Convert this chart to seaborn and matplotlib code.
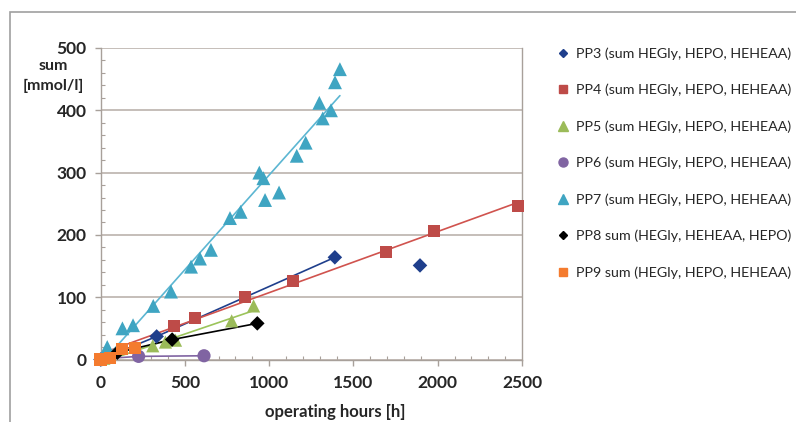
import numpy as np
import pandas as pd
import seaborn as sns
import matplotlib.pyplot as plt
from matplotlib.lines import Line2D
from matplotlib.patches import Rectangle
from matplotlib.ticker import MultipleLocator

# values (operating hours [h], sum [mmol/l])
pp3_x = [0, 333, 1390, 1895]
pp3_y = [0, 37, 164, 151]
pp4_x = [0, 438, 560, 857, 1144, 1693, 1980, 2478]
pp4_y = [0, 53, 66, 100, 126, 173, 207, 246]
pp5_x = [20, 310, 385, 445, 778, 908]
pp5_y = [2, 22, 28, 31, 62, 86]
pp6_x = [0, 226, 614]
pp6_y = [1, 5, 6]
pp7_x = [30, 40, 130, 193, 313, 418, 537, 590, 655, 768, 831, 942, 966, 976,
         1059, 1164, 1217, 1298, 1318, 1367, 1391, 1420]
pp7_y = [10, 20, 50, 55, 86, 109, 149, 162, 176, 227, 237, 300, 291, 256,
         268, 327, 348, 412, 387, 400, 445, 466]
pp8_x = [10, 100, 425, 930]
pp8_y = [1, 11, 32, 58]
pp9_x = [0, 55, 125, 205]
pp9_y = [0, 3, 17, 19]

labels = ["PP3 (sum HEGly, HEPO, HEHEAA)",
          "PP4 (sum HEGly, HEPO, HEHEAA)",
          "PP5 (sum HEGly, HEPO, HEHEAA)",
          "PP6 (sum HEGly, HEPO, HEHEAA)",
          "PP7 (sum HEGly, HEPO, HEHEAA)",
          "PP8 sum (HEGly, HEHEAA, HEPO)",
          "PP9 sum (HEGly, HEPO, HEHEAA)"]

sns.set_style("white")
plt.rcParams['font.family'] = ['Lato', 'DejaVu Sans']

fig = plt.figure(figsize=(7.96, 4.22), dpi=100)
ax = fig.add_axes([100.5 / 796, 1 - 359.5 / 422, 421.5 / 796, 311.5 / 422])

c3, c4, c5, c6, c7, c8, c9 = "#1f3f8c", "#be4b48", "#9bbb59", "#8064a2", "#3fa5c2", "black", "#f47b2e"

# PP3: line through the regular points, last point is an outlier
sns.lineplot(x=pp3_x[:3], y=pp3_y[:3], color=c3, lw=1.2, ax=ax, sort=False)
sns.scatterplot(x=pp3_x, y=pp3_y, color=c3, marker="D", s=55, edgecolor="none", ax=ax, clip_on=False, zorder=5)

# PP4 / PP5 / PP7 with linear trendlines
sns.regplot(x=pp4_x, y=pp4_y, scatter=False, ci=None, color="#d0534e", line_kws={"lw": 1.2}, ax=ax)
sns.scatterplot(x=pp4_x, y=pp4_y, color=c4, marker="s", s=75, edgecolor="none", ax=ax, clip_on=False, zorder=5)

sns.regplot(x=pp5_x, y=pp5_y, scatter=False, ci=None, color="#9bc45a", line_kws={"lw": 1.2}, ax=ax)
sns.scatterplot(x=pp5_x, y=pp5_y, color=c5, marker="^", s=90, edgecolor="none", ax=ax, clip_on=False, zorder=5)

sns.lineplot(x=pp6_x, y=pp6_y, color=c6, lw=1.2, ax=ax, sort=False)
sns.scatterplot(x=pp6_x[1:], y=pp6_y[1:], color=c6, marker="o", s=90, edgecolor="none", ax=ax, clip_on=False, zorder=5)

sns.regplot(x=pp7_x, y=pp7_y, scatter=False, ci=None, color="#5cb6d2", line_kws={"lw": 1.2}, ax=ax)
sns.scatterplot(x=pp7_x, y=pp7_y, color=c7, marker="^", s=100, edgecolor="none", ax=ax, clip_on=False, zorder=5)

sns.lineplot(x=pp8_x, y=pp8_y, color=c8, lw=1.2, ax=ax, sort=False)
sns.scatterplot(x=pp8_x[1:], y=pp8_y[1:], color=c8, marker="D", s=55, edgecolor="none", ax=ax, clip_on=False, zorder=6)

sns.lineplot(x=pp9_x, y=pp9_y, color=c9, lw=1.2, ax=ax, sort=False)
sns.scatterplot(x=pp9_x, y=pp9_y, color=c9, marker="s", s=75, edgecolor="none", ax=ax, clip_on=False, zorder=7)

ax.set_xlim(0, 2500)
ax.set_ylim(0, 500)
ax.xaxis.set_major_locator(MultipleLocator(500))
ax.xaxis.set_minor_locator(MultipleLocator(100))
ax.yaxis.set_major_locator(MultipleLocator(100))
ax.yaxis.set_minor_locator(MultipleLocator(20))
ax.grid(axis="y", which="major", color="#b5aca6", lw=1.1)
ax.set_axisbelow(True)
for side in ["left", "bottom", "right", "top"]:
    ax.spines[side].set_color("#a8a09a")
    ax.spines[side].set_linewidth(1.0)
ax.spines["top"].set_visible(False)
ax.tick_params(which="major", direction="out", length=4, width=1, color="#a8a09a",
               labelsize=12.5)
ax.tick_params(axis="y", which="major", pad=6)
ax.tick_params(axis="x", which="major", pad=7)
ax.tick_params(which="minor", direction="in", length=3, width=0.8, color="#a8a09a")
ax.tick_params(which="both", left=True, bottom=True)
for t in ax.get_xticklabels() + ax.get_yticklabels():
    t.set_fontweight("bold")
ax.set_xlabel("")
ax.set_ylabel("")

fig.text(53 / 796, 1 - 76 / 422, "sum\n[mmol/l]", ha="center", va="center",
         fontsize=11.5, fontweight="bold", linespacing=1.45)
fig.text(335 / 796, 1 - 412 / 422, "operating hours [h]", ha="center", va="center",
         fontsize=12, fontweight="bold")

# chart area border (left and top edges visible)
fig.patches.append(Rectangle((10 / 796, -0.2), 1.2, 1.2 - 12 / 422, transform=fig.transFigure,
                             fill=False, edgecolor="#a0a0a0", lw=1.2))

handles = [Line2D([], [], ls="none", marker=m, color=c, markersize=ms)
           for m, c, ms in [("D", c3, 4.5), ("s", c4, 6), ("^", c5, 6.5), ("o", c6, 6.5),
                            ("^", c7, 6.5), ("D", c8, 4.5), ("s", c9, 6)]]
fig.legend(handles, labels, loc="upper left", bbox_to_anchor=(556 / 796, 1 - 47 / 422),
           frameon=False, fontsize=10.3, labelspacing=1.68, handletextpad=0.4,
           handlelength=1.0, borderaxespad=0, borderpad=0)

fig.savefig("out.png", dpi=100)
